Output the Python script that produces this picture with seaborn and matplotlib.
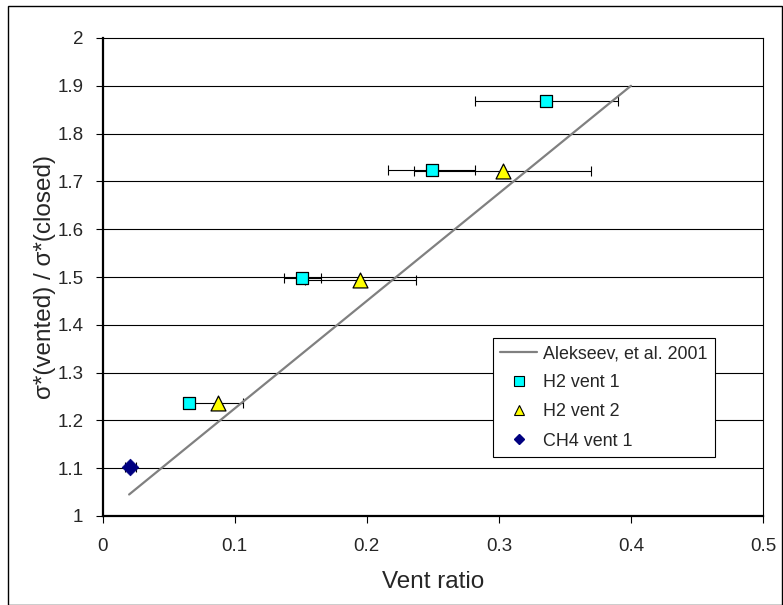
import matplotlib
matplotlib.use("Agg")
import matplotlib.pyplot as plt
import seaborn as sns
import pandas as pd
from matplotlib.lines import Line2D
from matplotlib.patches import Rectangle

# ---- data ----
alek_x = [0.02, 0.40]
alek_y = [1.045, 1.90]

h2v1_x = [0.065, 0.151, 0.249, 0.336]
h2v1_y = [1.237, 1.497, 1.724, 1.868]
h2v1_xerr = [0.0, 0.014, 0.033, 0.054]

h2v2_x = [0.087, 0.195, 0.303]
h2v2_y = [1.236, 1.494, 1.722]
h2v2_xerr = [0.019, 0.042, 0.067]

ch4_x = [0.021]
ch4_y = [1.103]
ch4_xerr = [0.004]

x_ticks = [0, 0.1, 0.2, 0.3, 0.4, 0.5]
x_ticklabels = ["0", "0.1", "0.2", "0.3", "0.4", "0.5"]
y_ticks = [1, 1.1, 1.2, 1.3, 1.4, 1.5, 1.6, 1.7, 1.8, 1.9, 2]
y_ticklabels = ["1", "1.1", "1.2", "1.3", "1.4", "1.5", "1.6", "1.7", "1.8", "1.9", "2"]

sns.set_style("white")
plt.rcParams["font.family"] = ["Liberation Sans", "DejaVu Sans"]

W, H = 783, 605
fig = plt.figure(figsize=(W / 100, H / 100), dpi=100)
ax = fig.add_axes([102.7 / W, 1 - 516 / H, (763 - 102.7) / W, (516 - 38) / H])

# outer frame
fig.patches.append(Rectangle((8 / W, 0.5 / H), (W - 9) / W, (H - 6) / H,
                             transform=fig.transFigure, fill=False,
                             edgecolor="black", linewidth=1.0))

# gridlines
for yv in y_ticks[1:-1]:
    ax.axhline(yv, color="black", linewidth=0.8, zorder=1)

# error bars
ax.errorbar(h2v1_x, h2v1_y, xerr=h2v1_xerr, fmt="none", ecolor="black",
            elinewidth=0.8, capsize=3.6, capthick=0.8, zorder=2)
ax.errorbar(h2v2_x, h2v2_y, xerr=h2v2_xerr, fmt="none", ecolor="black",
            elinewidth=0.8, capsize=3.6, capthick=0.8, zorder=2)
ax.errorbar(ch4_x, ch4_y, xerr=ch4_xerr, fmt="none", ecolor="black",
            elinewidth=0.8, capsize=3.6, capthick=0.8, zorder=2)

# reference line
alek = pd.DataFrame({"x": alek_x, "y": alek_y})
sns.lineplot(data=alek, x="x", y="y", ax=ax, color="#808080", linewidth=1.6,
             zorder=3, legend=False)

# markers
sns.scatterplot(x=h2v1_x, y=h2v1_y, ax=ax, marker="s", s=85, color="#00FFFF",
                edgecolor="black", linewidth=0.9, zorder=4, legend=False)
sns.scatterplot(x=h2v2_x, y=h2v2_y, ax=ax, marker="^", s=115, color="#FFFF00",
                edgecolor="black", linewidth=0.9, zorder=4, legend=False)
sns.scatterplot(x=ch4_x, y=ch4_y, ax=ax, marker="D", s=72, color="#000080",
                edgecolor="#000080", linewidth=0.5, zorder=5, legend=False)

ax.set_xlim(0, 0.5)
ax.set_ylim(1, 2)
ax.set_xticks(x_ticks)
ax.set_xticklabels(x_ticklabels)
ax.set_yticks(y_ticks)
ax.set_yticklabels(y_ticklabels)
ax.tick_params(axis="y", direction="out", length=5, width=0.8, color="black",
               pad=9, labelsize=13.5, left=True)
ax.tick_params(axis="x", direction="out", length=5, width=0.8, color="black",
               pad=11, labelsize=13.5, bottom=True)

for side in ["left", "bottom"]:
    ax.spines[side].set_linewidth(1.6)
    ax.spines[side].set_color("black")
for side in ["top", "right"]:
    ax.spines[side].set_linewidth(0.8)
    ax.spines[side].set_color("black")
    ax.spines[side].set_visible(True)

ax.set_xlabel("Vent ratio", fontsize=17.5, labelpad=11)
ax.set_ylabel("σ*(vented) / σ*(closed)", fontsize=17.5, labelpad=1)

handles = [
    Line2D([], [], color="#808080", linewidth=1.6),
    Line2D([], [], marker="s", linestyle="none", markersize=6.5,
           markerfacecolor="#00FFFF", markeredgecolor="black", markeredgewidth=0.8),
    Line2D([], [], marker="^", linestyle="none", markersize=7.5,
           markerfacecolor="#FFFF00", markeredgecolor="black", markeredgewidth=0.8),
    Line2D([], [], marker="D", linestyle="none", markersize=5,
           markerfacecolor="#000080", markeredgecolor="#000080"),
]
labels = ["Alekseev, et al. 2001", "H2 vent 1", "H2 vent 2", "CH4 vent 1"]
leg = ax.legend(handles, labels, loc="lower left",
                bbox_to_anchor=(0.5906, 0.124), borderaxespad=0,
                fontsize=12.9, frameon=True, fancybox=False, shadow=False,
                edgecolor="black", facecolor="white", framealpha=1,
                handlelength=2.1, handletextpad=0.3, labelspacing=0.68,
                borderpad=0.4)
leg.get_frame().set_linewidth(0.8)

fig.savefig("out.png", dpi=100)
